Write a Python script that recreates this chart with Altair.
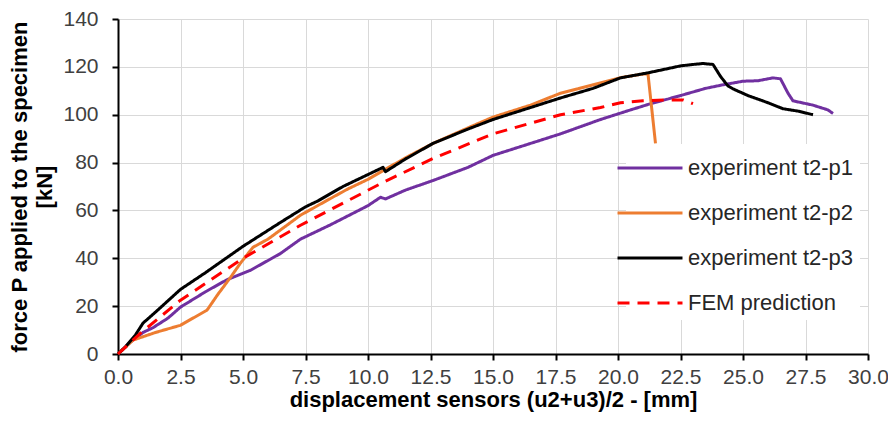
import altair as alt
import pandas as pd

# experiment t2-p1 (purple)
p1_x = [0, 0.5, 1.0, 1.4, 2.0, 2.5, 3.5, 4.35, 5.3, 6.5, 7.3, 8.5, 10.0, 10.5, 10.7, 11.5, 12.6, 14.0, 15.0, 16.5, 17.7, 19.3, 20.5, 21.3, 22.5, 23.5, 24.2, 25.0, 25.6, 26.2, 26.5, 26.8, 27.0, 27.8, 28.4, 28.6]
p1_y = [0, 5, 9, 11, 15, 19.6, 26, 31, 35, 42, 48, 54, 62, 65.5, 64.8, 68.5, 72.5, 78, 83, 88, 92, 98, 102, 104.6, 108, 111, 112.5, 114, 114.2, 115.4, 115, 109, 105.8, 104, 102, 100.5]

# experiment t2-p2 (orange)
p2_x = [0, 0.6, 1.5, 2.5, 3.0, 3.56, 4.0, 4.5, 4.9, 5.4, 6.0, 7.3, 8.5, 9.2, 10.0, 10.5, 11.5, 12.6, 14.0, 15.0, 16.5, 17.7, 19.0, 20.1, 21.0, 21.2, 21.5]
p2_y = [0, 5.8, 9, 12, 15, 18.3, 25, 32, 38, 44.6, 48, 58, 65, 69, 73, 76, 82, 88, 94.5, 99, 104, 109, 112.5, 115.5, 117, 117, 88]

# experiment t2-p3 (black)
p3_x = [0, 0.3, 0.7, 1.0, 1.5, 2.5, 3.5, 5.0, 6.5, 7.5, 8.0, 9.0, 10.0, 10.5, 10.6, 10.7, 11.5, 12.6, 14.0, 15.0, 16.5, 17.7, 19.0, 20.1, 21.2, 22.5, 23.0, 23.4, 23.8, 24.1, 24.4, 24.6, 25.2, 26.0, 26.6, 27.2, 27.8]
p3_y = [0, 3, 8, 12.9, 17.5, 27, 34, 45, 55, 61.5, 64, 70, 75, 77.5, 78, 76.2, 81.5, 88, 94, 98, 103, 107, 111, 115.4, 117.5, 120.4, 121, 121.4, 121, 116, 112, 110.8, 108, 105, 102.5, 101.5, 100]

# FEM prediction (red dashed)
fem_x = [0, 0.9, 2.5, 5.0, 7.3, 10.6, 12.6, 15.0, 17.7, 19.3, 20.1, 21.0, 22.0, 22.6, 23.0]
fem_y = [0, 8.7, 22.5, 40, 53.8, 71.7, 81.7, 92, 100, 103, 105, 105.8, 106.2, 106.2, 104.6]

series_names = ["experiment t2-p1", "experiment t2-p2", "experiment t2-p3", "FEM prediction"]
series_colors = ["#7030A0", "#ED7D31", "#000000", "#FF0000"]
series_dash = [[1, 0], [1, 0], [1, 0], [12, 8]]

x_ticks = [0, 2.5, 5, 7.5, 10, 12.5, 15, 17.5, 20, 22.5, 25, 27.5, 30]
y_ticks = [0, 20, 40, 60, 80, 100, 120, 140]

rows = []
for name, xs, ys in zip(series_names, [p1_x, p2_x, p3_x, fem_x], [p1_y, p2_y, p3_y, fem_y]):
    for i, (x, y) in enumerate(zip(xs, ys)):
        rows.append({"series": name, "x": x, "y": y, "i": i})
df = pd.DataFrame(rows)

font = "Liberation Sans"

chart = alt.Chart(df).mark_line(strokeWidth=3, strokeJoin="round", strokeCap="butt").encode(
    x=alt.X("x:Q",
            scale=alt.Scale(domain=[0, 30], nice=False),
            axis=alt.Axis(values=x_ticks, format=".1f", labelPadding=6, labelFlush=False,
                          titlePadding=2,
                          title="displacement sensors (u2+u3)/2 - [mm]")),
    y=alt.Y("y:Q",
            scale=alt.Scale(domain=[0, 140], nice=False),
            axis=alt.Axis(values=y_ticks, format="d", labelPadding=14, titlePadding=6,
                          labelFlush=False, titleLineHeight=25,
                          title=["force P applied to the specimen", "[kN]"])),
    color=alt.Color("series:N",
                    scale=alt.Scale(domain=series_names, range=series_colors),
                    legend=alt.Legend(title=None, orient="none", legendX=508, legendY=125,
                                      symbolType="M-2,0H2", symbolSize=1056, symbolStrokeWidth=3,
                                      labelFontSize=22, labelFont=font, labelColor="#262626",
                                      labelLimit=400,
                                      rowPadding=16, fillColor="white", padding=6,
                                      labelOffset=20)),
    strokeDash=alt.StrokeDash("series:N",
                              scale=alt.Scale(domain=series_names, range=series_dash),
                              legend=None),
    order="i:Q",
).properties(
    width=750, height=335,
    autosize=alt.AutoSizeParams(type="none"),
    padding={"left": 110, "top": 11, "right": 20, "bottom": 61},
).configure_axis(
    grid=True, gridColor="#d9d9d9", gridWidth=1,
    domainColor="#000000", domainWidth=2,
    tickColor="#000000", tickWidth=2, tickSize=6,
    labelFont=font, labelFontSize=21, labelColor="#404040",
    titleFont=font, titleFontSize=22, titleFontWeight="bold", titleColor="#000000",
).configure_view(stroke=None)

chart.save("out.html", embed_options={"renderer": "svg", "actions": False})
